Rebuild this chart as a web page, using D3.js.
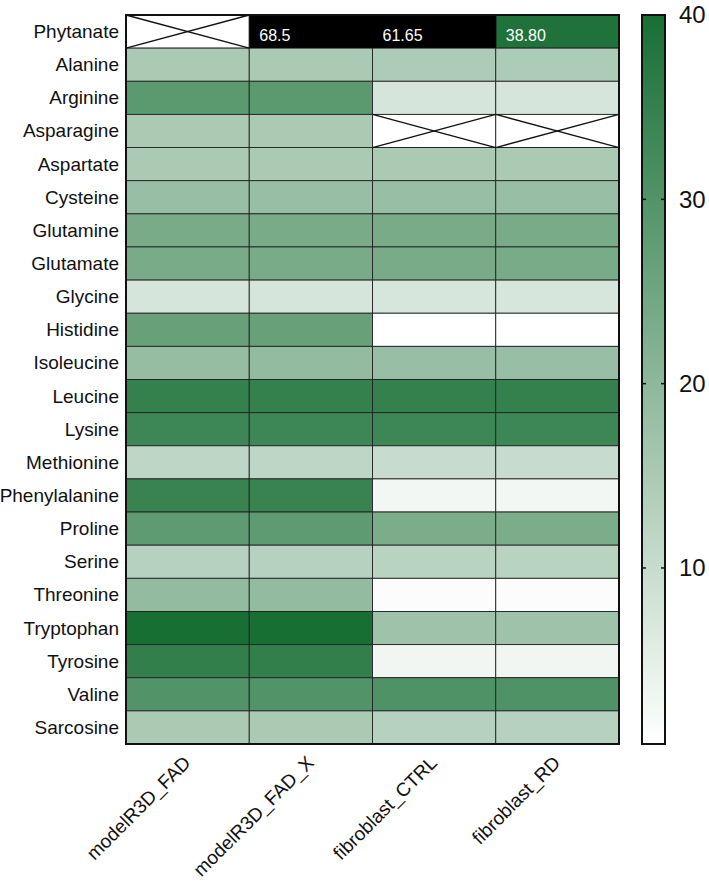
<!DOCTYPE html>
<html>
<head>
<meta charset="utf-8">
<script src="https://cdn.jsdelivr.net/npm/d3@7/dist/d3.min.js"></script>
<style>
  html, body { margin: 0; padding: 0; background: #fff; }
  svg { display: block; font-family: "Liberation Sans", Arial, sans-serif; }
</style>
</head>
<body>
<svg id="chart" width="709" height="883"></svg>
<script>
const rows = ["Phytanate","Alanine","Arginine","Asparagine","Aspartate","Cysteine","Glutamine","Glutamate","Glycine","Histidine","Isoleucine","Leucine","Lysine","Methionine","Phenylalanine","Proline","Serine","Threonine","Tryptophan","Tyrosine","Valine","Sarcosine"];
const columns = ["modelR3D_FAD","modelR3D_FAD_X","fibroblast_CTRL","fibroblast_RD"];
const modelR3D_FAD   = [NaN, 15, 28.5, 15, 15, 18, 23.4, 23.4, 7.5, 26.5, 18.5, 35, 33.6, 11.6, 34.5, 28, 13, 19, 40, 35.5, 30, 15];
const modelR3D_FAD_X = [68.5, 15, 28.5, 15, 15, 18, 23.4, 23.4, 7.5, 26.5, 19, 35, 33.6, 11.6, 34.5, 28, 13, 19, 40, 35.5, 30, 15];
const fibroblast_CTRL = [61.65, 14.5, 7.5, NaN, 15, 18, 23.4, 23.4, 7.3, 0.45, 18, 35, 33.6, 10, 2.7, 23, 12.5, 1.2, 17, 2.8, 30.5, 13];
const fibroblast_RD  = [38.80, 14.5, 7.5, NaN, 15, 18, 23.4, 23.4, 7.3, 0.45, 18, 35, 33.6, 10, 2.7, 23, 12.5, 1.2, 17, 2.8, 30.5, 13];
const seriesValues = [modelR3D_FAD, modelR3D_FAD_X, fibroblast_CTRL, fibroblast_RD];
const cellLabels = [["Phytanate","modelR3D_FAD_X","68.5"],["Phytanate","fibroblast_CTRL","61.65"],["Phytanate","fibroblast_RD","38.80"]];
const colorTicks = [10, 20, 30, 40];
const colorDomain = [0.45, 40];

const svg = d3.select("#chart");
const L = 126, R = 619, T = 15, B = 744;
const x = d3.scaleBand().domain(columns).range([L, R]).padding(0);
const y = d3.scaleBand().domain(rows).range([T, B]).padding(0);
const color = d3.scaleLinear().domain(colorDomain).range(["#ffffff", "#186f34"]).clamp(true);

const cells = [];
columns.forEach((c, ci) => rows.forEach((r, ri) => cells.push({ col: c, row: r, v: seriesValues[ci][ri] })));

const g = svg.append("g");
g.selectAll("rect.cell").data(cells).join("rect")
  .attr("class", "cell")
  .attr("x", d => x(d.col)).attr("y", d => y(d.row))
  .attr("width", x.bandwidth()).attr("height", y.bandwidth())
  .attr("fill", d => isNaN(d.v) ? "#ffffff" : (d.v > colorDomain[1] ? "#000000" : color(d.v)))
  .attr("stroke", "#222").attr("stroke-width", 0.9);

// black overflow cells: redraw without inner border between adjacent black cells
const over = cells.filter(d => d.v > colorDomain[1]);
g.selectAll("rect.over").data(over).join("rect")
  .attr("x", d => x(d.col) + 0.5).attr("y", d => y(d.row) + 0.5)
  .attr("width", x.bandwidth()).attr("height", y.bandwidth() - 1)
  .attr("fill", "#000");

// missing cells with X
const miss = cells.filter(d => isNaN(d.v));
miss.forEach(d => {
  const x0 = x(d.col), x1 = x0 + x.bandwidth(), y0 = y(d.row), y1 = y0 + y.bandwidth();
  g.append("line").attr("x1", x0).attr("y1", y0).attr("x2", x1).attr("y2", y1).attr("stroke", "#111").attr("stroke-width", 1.3);
  g.append("line").attr("x1", x0).attr("y1", y1).attr("x2", x1).attr("y2", y0).attr("stroke", "#111").attr("stroke-width", 1.3);
});

// value labels
g.selectAll("text.val").data(cellLabels).join("text")
  .attr("x", d => x(d[1]) + 10)
  .attr("y", d => y(d[0]) + y.bandwidth() / 2 + 4)
  .attr("dominant-baseline", "central")
  .attr("fill", "#fff").attr("font-size", 16)
  .text(d => d[2]);

// outer border
g.append("rect").attr("x", L).attr("y", T).attr("width", R - L).attr("height", B - T)
  .attr("fill", "none").attr("stroke", "#111").attr("stroke-width", 2);

// row labels
g.selectAll("text.row").data(rows).join("text")
  .attr("x", L - 7).attr("y", d => y(d) + y.bandwidth() / 2)
  .attr("text-anchor", "end").attr("dominant-baseline", "central")
  .attr("font-size", 19).attr("fill", "#111").text(d => d);

// column labels
g.selectAll("text.col").data(columns).join("text")
  .attr("transform", d => `translate(${x(d) + x.bandwidth() / 2 + 4},${B + 20}) rotate(-45)`)
  .attr("text-anchor", "end")
  .attr("font-size", 19).attr("fill", "#111").text(d => d);

// colour bar
const CL = 642, CR = 665;
const cy = d3.scaleLinear().domain(colorDomain).range([B, T]);
const defs = svg.append("defs");
const grad = defs.append("linearGradient").attr("id", "cbar")
  .attr("x1", 0).attr("y1", 1).attr("x2", 0).attr("y2", 0);
d3.range(0, 11).forEach(i => {
  const t = i / 10;
  grad.append("stop").attr("offset", t).attr("stop-color", color(colorDomain[0] + t * (colorDomain[1] - colorDomain[0])));
});
svg.append("rect").attr("x", CL).attr("y", T).attr("width", CR - CL).attr("height", B - T)
  .attr("fill", "url(#cbar)").attr("stroke", "#111").attr("stroke-width", 2);
const axis = d3.axisRight(cy).tickValues(colorTicks).tickSize(0).tickPadding(14).tickFormat(d3.format("d"));
const ax = svg.append("g").attr("transform", `translate(${CR},0)`).call(axis);
ax.select(".domain").remove();
ax.selectAll("text").attr("font-size", 24).attr("fill", "#111").attr("font-family", "Liberation Sans, Arial, sans-serif");
// inward tick marks on both edges
svg.selectAll("line.tl").data(colorTicks).join("line")
  .attr("x1", CL).attr("x2", CL + 4).attr("y1", d => cy(d)).attr("y2", d => cy(d))
  .attr("stroke", "#111").attr("stroke-width", 1.5);
svg.selectAll("line.tr").data(colorTicks).join("line")
  .attr("x1", CR - 4).attr("x2", CR).attr("y1", d => cy(d)).attr("y2", d => cy(d))
  .attr("stroke", "#111").attr("stroke-width", 1.5);
</script>
</body>
</html>
